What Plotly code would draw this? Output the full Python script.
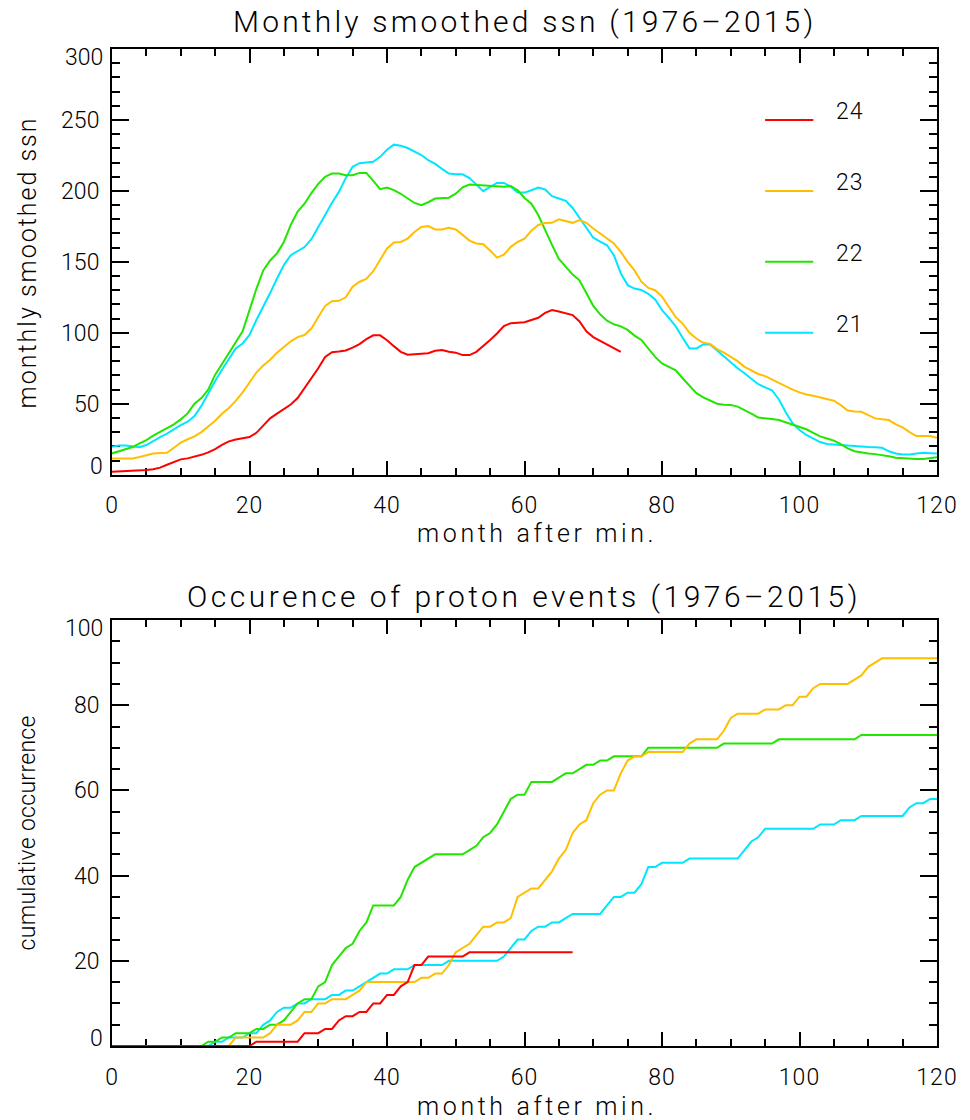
import plotly.graph_objects as go

# ---------------- data ----------------
months = list(range(0, 121))
months_c24_ssn = list(range(0, 75))
months_c24_cum = list(range(0, 68))

ssn_c24 = [2, 2.2, 2.5, 2.8, 3, 3.3, 3.8, 5, 7, 9,
           10.8, 11.5, 12.5, 14, 15.7, 18, 21, 23.5, 24.8, 25.5,
           26.5, 29.5, 34.5, 39.7, 43, 46, 49.5, 54, 61, 68,
           75, 83, 86.3, 86.8, 87.5, 89.5, 92, 95.5, 98.2, 98.2,
           94.8, 90.6, 86.6, 84.5, 85, 85.2, 85.6, 87.3, 87.8, 86.6,
           86, 84.3, 84.3, 86.6, 90.5, 95, 99.5, 104.7, 106.8, 107,
           107.5, 109, 110.6, 114, 116, 115, 114, 112.5, 108, 101,
           97, 94.5, 92, 89.5, 86.6]

ssn_c23 = [11.5, 11.5, 11.5, 11.5, 12.5, 13.9, 15, 15.3, 15.5, 19,
           22.6, 25, 27, 30, 34, 38, 43, 47, 52, 58,
           65, 72, 77, 81, 86, 90, 94, 97, 98.4, 103,
           111, 119, 122.3, 122.5, 125, 132.5, 136, 138, 143.4, 151,
           159.4, 163.6, 164, 166.4, 171, 174.6, 175.2, 172.8, 172.8, 174,
           172.8, 169, 165, 163, 162.4, 158, 153, 155, 160.6, 164,
           166.4, 172, 176, 177.3, 177.5, 180, 178.8, 177.5, 179.4, 177.5,
           173.5, 170, 166.5, 162.9, 157, 150, 144, 136, 131.6, 130,
           125.5, 118, 111, 106.5, 100, 96, 93, 92.2, 88.5, 86,
           83.3, 80, 76, 73.5, 71, 69.5, 67, 64.5, 62, 60,
           58, 56.5, 55.6, 54.5, 53.2, 52.1, 49, 45.2, 44.6, 44.3,
           42, 39.7, 39, 38.5, 35.5, 33.3, 30, 27.2, 27.2, 27.2,
           26]

ssn_c22 = [15, 16.5, 18, 19.5, 22, 24.4, 27.5, 30, 32.5, 35.5,
           39, 43.2, 50, 54, 60, 70.5, 78, 86, 94, 101,
           116, 131, 144, 151, 156, 164, 176, 185.5, 191, 198.5,
           205, 210, 212.2, 212.2, 211, 211, 212.7, 212.7, 207, 201.2,
           202.4, 200.5, 198, 195, 191.5, 190, 192, 194.6, 195, 195.2,
           198, 202.5, 204.5, 204.2, 204, 203.5, 203, 203, 203.5, 200.5,
           195, 191, 183, 172, 162, 152, 146.5, 141, 137, 128,
           119, 113, 108.5, 106, 104.5, 102, 98, 95, 89, 83,
           78.4, 76, 73.5, 68, 62.5, 57.5, 54.5, 52, 50, 49.3,
           49.2, 48, 45.7, 43, 40.3, 39.5, 39.2, 38.5, 37, 35,
           33.5, 32, 29.5, 27, 25.5, 24, 21.5, 18.6, 16.5, 15.5,
           15, 14.5, 14, 13, 12, 11.6, 11.4, 11.1, 11.1, 11.5,
           12.3]

ssn_c21 = [19.7, 20.5, 20.5, 19.7, 19.3, 20.9, 24, 26.5, 29, 32,
           35, 37.3, 41.3, 48.5, 57.5, 66, 74, 82, 89, 92.5,
           98.5, 109, 118, 128, 138.3, 147.7, 154.7, 157.5, 160.4, 166,
           174, 183, 191.6, 199.3, 209, 217, 219.5, 220, 220.5, 224,
           229, 232.6, 231.8, 230.2, 228, 225.3, 221.6, 219, 215.5, 212.2,
           211.7, 211.7, 209, 204.5, 199.8, 202.8, 205.6, 205.6, 203, 198.8,
           198.8, 200.5, 202.4, 201, 196.3, 194.6, 193, 188, 181, 174,
           167, 164.3, 161.7, 154.7, 142, 133.6, 131.2, 130.2, 127.5, 123.5,
           116, 110.5, 104.5, 96.5, 89, 89, 91.8, 91.8, 87.5, 83.1,
           79, 75, 71.5, 67.5, 63.8, 61.5, 59.5, 53, 44, 36.2,
           31.5, 28, 25.5, 23, 21.6, 21.2, 20.9, 20.5, 20, 19.7,
           19.5, 19.4, 19, 16.5, 15, 14.3, 14.3, 15, 15.5, 15.2,
           15]

cum_c24 = [0, 0, 0, 0, 0, 0, 0, 0, 0, 0,
           0, 0, 0, 0, 0, 0, 0, 0, 0, 0,
           0, 1, 1, 1, 1, 1, 1, 1, 3, 3,
           3, 4, 4, 6, 7, 7, 8, 8, 10, 10,
           12, 12, 14, 15, 19, 19, 21, 21, 21, 21,
           21, 21, 22, 22, 22, 22, 22, 22, 22, 22,
           22, 22, 22, 22, 22, 22, 22, 22]

cum_c23 = [0, 0, 0, 0, 0, 0, 0, 0, 0, 0,
           0, 0, 0, 0, 0, 0, 0, 0, 2, 2,
           2, 2, 2, 3, 5, 5, 5, 6, 8, 8,
           10, 10, 11, 11, 11, 12, 13, 15, 15, 15,
           15, 15, 15, 15, 15, 16, 16, 17, 17, 19,
           22, 23, 24, 26, 28, 28, 29, 29, 30, 35,
           36, 37, 37, 39, 41, 44, 46, 50, 52, 53,
           57, 59, 60, 60, 64, 67, 68, 68, 69, 69,
           69, 69, 69, 69, 71, 72, 72, 72, 72, 74,
           77, 78, 78, 78, 78, 79, 79, 79, 80, 80,
           82, 82, 84, 85, 85, 85, 85, 85, 86, 87,
           89, 90, 91, 91, 91, 91, 91, 91, 91, 91,
           91]

cum_c22 = [0, 0, 0, 0, 0, 0, 0, 0, 0, 0,
           0, 0, 0, 0, 1, 1, 2, 2, 3, 3,
           3, 4, 4, 5, 5, 6, 8, 10, 11, 11,
           14, 15, 19, 21, 23, 24, 27, 29, 33, 33,
           33, 33, 35, 39, 42, 43, 44, 45, 45, 45,
           45, 45, 46, 47, 49, 50, 52, 55, 58, 59,
           59, 62, 62, 62, 62, 63, 64, 64, 65, 66,
           66, 67, 67, 68, 68, 68, 68, 68, 70, 70,
           70, 70, 70, 70, 70, 70, 70, 70, 70, 71,
           71, 71, 71, 71, 71, 71, 71, 72, 72, 72,
           72, 72, 72, 72, 72, 72, 72, 72, 72, 73,
           73, 73, 73, 73, 73, 73, 73, 73, 73, 73,
           73]

cum_c21 = [0, 0, 0, 0, 0, 0, 0, 0, 0, 0,
           0, 0, 0, 0, 0, 1, 1, 2, 2, 2,
           3, 3, 5, 6, 8, 9, 9, 10, 10, 11,
           11, 11, 12, 12, 13, 13, 14, 15, 16, 17,
           17, 18, 18, 18, 19, 19, 19, 19, 19, 20,
           20, 20, 20, 20, 20, 20, 20, 21, 23, 25,
           25, 27, 28, 28, 29, 29, 30, 31, 31, 31,
           31, 31, 33, 35, 35, 36, 36, 38, 42, 42,
           43, 43, 43, 43, 44, 44, 44, 44, 44, 44,
           44, 44, 46, 48, 49, 51, 51, 51, 51, 51,
           51, 51, 51, 52, 52, 52, 53, 53, 53, 54,
           54, 54, 54, 54, 54, 54, 56, 57, 57, 58,
           58]

cycle_names = ["24", "23", "22", "21"]
legend_y = [250, 200, 150, 100]
x_ticks = [0, 20, 40, 60, 80, 100, 120]
ssn_ticks = [0, 50, 100, 150, 200, 250, 300]
cum_ticks = [0, 20, 40, 60, 80, 100]

title_top = "Monthly smoothed ssn (1976\u20132015)"
title_bot = "Occurence of proton events (1976\u20132015)"
xlabel = "month after min."
ylabel_top = "monthly smoothed ssn"
ylabel_bot = "cumulative occurrence"

# ---------------- style ----------------
FONT = "Roboto"
WEIGHT = 300
colors = {"24": "#ff0000", "23": "#ffbf00", "22": "#22e600", "21": "#00e6ff"}
LW = 2

W, H = 970, 1120
ML, MR, MT, MB = 112, 29, 49, 74
PW = W - ML - MR
PH = H - MT - MB


def py(pix):
    return (H - MB - pix) / PH


def px(pix):
    return (pix - ML) / PW


def spaced(text, ls):
    return '<span style="letter-spacing:%.1fpx">%s</span>' % (ls, text)


fig = go.Figure()

top_series = {"21": (months, ssn_c21), "22": (months, ssn_c22),
              "23": (months, ssn_c23), "24": (months_c24_ssn, ssn_c24)}
bot_series = {"21": (months, cum_c21), "22": (months, cum_c22),
              "23": (months, cum_c23), "24": (months_c24_cum, cum_c24)}

for name in ["21", "22", "23", "24"]:
    xs, ys = top_series[name]
    fig.add_trace(go.Scatter(x=xs, y=ys, mode="lines", xaxis="x", yaxis="y",
                             line=dict(color=colors[name], width=LW),
                             showlegend=False, hoverinfo="skip"))
for name in ["21", "22", "23", "24"]:
    xs, ys = bot_series[name]
    fig.add_trace(go.Scatter(x=xs, y=ys, mode="lines", xaxis="x2", yaxis="y2",
                             line=dict(color=colors[name], width=LW),
                             showlegend=False, hoverinfo="skip"))

tickfont = dict(family=FONT, size=23, color="black", weight=WEIGHT)
axis_common = dict(showline=True, linecolor="black", linewidth=2, mirror="ticks",
                   ticks="inside", tickcolor="black", tickwidth=1.5,
                   showgrid=False, zeroline=False, tickfont=tickfont,
                   layer="below traces", fixedrange=True)

xaxis_common = dict(axis_common, range=[0, 120], tickvals=x_ticks,
                    ticktext=[spaced(str(v), 1) for v in x_ticks], ticklen=14,
                    minor=dict(dtick=5, tick0=0, ticklen=7, ticks="inside",
                               tickwidth=1.5, tickcolor="black", showgrid=False),
                    ticklabelstandoff=9)

fig.update_layout(
    width=W, height=H,
    margin=dict(l=ML, r=MR, t=MT, b=MB),
    paper_bgcolor="white", plot_bgcolor="white",
    showlegend=False,
    xaxis=dict(xaxis_common, domain=[0, 1], anchor="y"),
    yaxis=dict(axis_common, domain=[py(474.7), 1], anchor="x", range=[0, 300],
               tickvals=ssn_ticks,
               ticktext=[""] + [str(v) for v in ssn_ticks[1:-1]] + [""],
               ticklen=17,
               minor=dict(dtick=10, tick0=0, ticklen=8, ticks="inside",
                          tickwidth=1.5, tickcolor="black", showgrid=False),
               ticklabelstandoff=6),
    xaxis2=dict(xaxis_common, domain=[0, 1], anchor="y2"),
    yaxis2=dict(axis_common, domain=[0, py(620)], anchor="x2", range=[0, 100],
                tickvals=cum_ticks,
                ticktext=[""] + [str(v) for v in cum_ticks[1:-1]] + [""],
                ticklen=17,
                minor=dict(dtick=5, tick0=0, ticklen=8, ticks="inside",
                           tickwidth=1.5, tickcolor="black", showgrid=False),
                ticklabelstandoff=6),
)

ann = []
# end tick labels shifted inward
for yref, lo, hi in [("y", ssn_ticks[0], ssn_ticks[-1]), ("y2", cum_ticks[0], cum_ticks[-1])]:
    ann.append(dict(text=str(lo), xref="paper", x=0, xanchor="right", xshift=-7,
                    yref=yref, y=lo, yanchor="middle", yshift=8,
                    showarrow=False, font=tickfont))
    ann.append(dict(text=str(hi), xref="paper", x=0, xanchor="right", xshift=-7,
                    yref=yref, y=hi, yanchor="middle", yshift=-8,
                    showarrow=False, font=tickfont))

title_font = dict(family=FONT, size=30, color="black", weight=WEIGHT)
label_font = dict(family=FONT, size=25, color="black", weight=WEIGHT)
label_font_small = dict(family=FONT, size=23, color="black", weight=WEIGHT)
ann.append(dict(text=spaced(title_top, 3.2), xref="paper", yref="paper", x=px(526), y=py(22),
                xanchor="center", yanchor="middle", showarrow=False, font=title_font))
ann.append(dict(text=spaced(title_bot, 3.5), xref="paper", yref="paper", x=px(526), y=py(596),
                xanchor="center", yanchor="middle", showarrow=False, font=title_font))
ann.append(dict(text=spaced(xlabel, 3.6), xref="paper", yref="paper", x=px(539), y=py(533),
                xanchor="center", yanchor="middle", showarrow=False, font=label_font))
ann.append(dict(text=spaced(xlabel, 3.6), xref="paper", yref="paper", x=px(539), y=py(1106),
                xanchor="center", yanchor="middle", showarrow=False, font=label_font))
ann.append(dict(text=spaced(ylabel_top, 2.0), xref="paper", yref="paper", x=px(27), y=py(262),
                xanchor="center", yanchor="middle", textangle=-90, showarrow=False,
                font=label_font))
ann.append(dict(text=spaced(ylabel_bot, 0.3), xref="paper", yref="paper", x=px(27), y=py(833),
                xanchor="center", yanchor="middle", textangle=-90, showarrow=False,
                font=label_font_small))

shapes = []
for name, ly in zip(cycle_names, legend_y):
    shapes.append(dict(type="line", xref="x", yref="y", x0=95, x1=102, y0=ly, y1=ly,
                       line=dict(color=colors[name], width=LW), layer="above"))
    ann.append(dict(text=spaced(name, 1), xref="x", yref="y", x=105, y=ly, xanchor="left",
                    yanchor="middle", yshift=8, showarrow=False, font=tickfont))

fig.update_layout(annotations=ann, shapes=shapes)

fig.write_html("out.html", config={"displayModeBar": False},
               post_script="document.body.style.margin='0';")
